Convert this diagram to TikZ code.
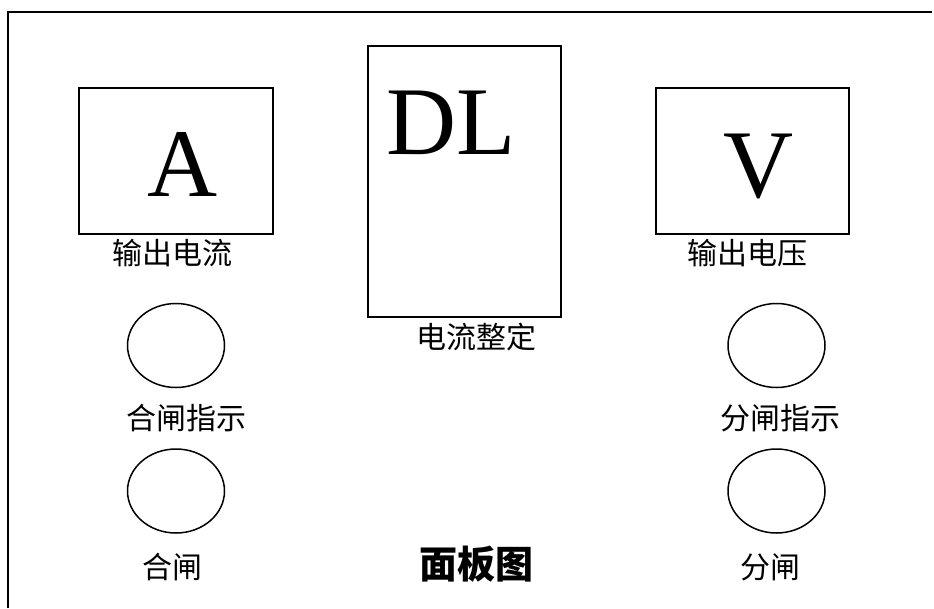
\documentclass[tikz,border=0pt]{standalone}
\usepackage{fontspec}
\setmainfont{Liberation Serif}
\newfontfamily\cjk{Noto Sans CJK SC}
\usetikzlibrary{shapes.geometric}
\tikzset{
  panelbox/.style={draw, line width=1.5pt, inner sep=0pt, outer sep=0pt, rectangle},
  lamp/.style={draw, line width=1.5pt, ellipse, inner sep=0pt, minimum width=97pt, minimum height=84pt},
  bigletter/.style={inner sep=0pt, anchor=base, font=\fontsize{97}{97}\selectfont},
  label/.style={inner sep=0pt, anchor=center, font=\cjk\fontsize{30}{30}\selectfont},
  titlelabel/.style={inner sep=0pt, anchor=center, font=\cjk\bfseries\fontsize{38}{38}\selectfont}
}
\begin{document}
\begin{tikzpicture}[x=1pt,y=-1pt]
\useasboundingbox (0,0) rectangle (934,608);
\fill[white] (0,0) rectangle (934,608);
\coordinate (fbl) at (8,608);
\coordinate (ftl) at (8,12);
\coordinate (ftr) at (932,12);
\draw[line width=1.5pt] (fbl) -- (ftl) -- (ftr);
% meters
\node[panelbox, minimum width=194pt, minimum height=146pt] (abox) at (176,161) {};
\node[panelbox, minimum width=193pt, minimum height=271pt] (dlbox) at (464.5,181.5) {};
\node[panelbox, minimum width=193pt, minimum height=146pt] (vbox) at (752.5,161) {};
\node[bigletter] (atext) at (183,196) {A};
\node[bigletter] (dltext) at (451.5,154) {DL};
\node[bigletter] (vtext) at (759,197) {V};
% lamps
\node[lamp] (l1) at (176,345.5) {};
\node[lamp] (l2) at (176,491) {};
\node[lamp] (l3) at (776.5,345.5) {};
\node[lamp] (l4) at (776.5,491) {};
% labels
\node[label] (t1) at (172,253) {输出电流};
\node[label] (t2) at (747.5,253) {输出电压};
\node[label] (t3) at (476,337) {电流整定};
\node[label] (t4) at (186,418) {合闸指示};
\node[label] (t5) at (780,418) {分闸指示};
\node[label] (t6) at (172,567) {合闸};
\node[label] (t7) at (770,567) {分闸};
\node[titlelabel] (title) at (476,564) {面板图};
\end{tikzpicture}
\end{document}
